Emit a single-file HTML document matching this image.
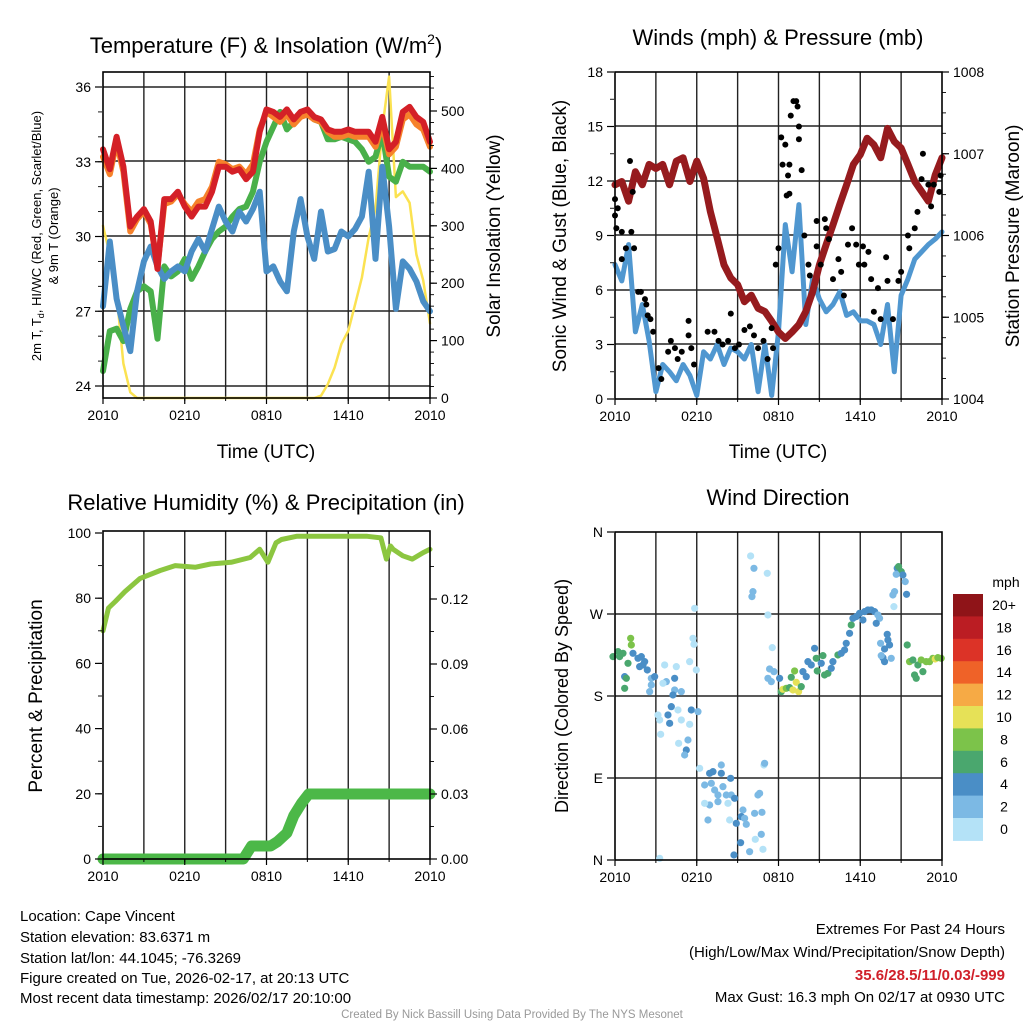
<!DOCTYPE html>
<html><head><meta charset="utf-8"><style>
html,body{margin:0;padding:0;background:#fff;}
svg{display:block;font-family:"Liberation Sans",Arial,sans-serif;}
</style></head><body>
<svg id="s" width="1024" height="1024" viewBox="0 0 1024 1024" xmlns="http://www.w3.org/2000/svg">
<g id="p1"></g>
<g id="p2"></g>
<g id="p3"></g>
<g id="p4"></g>
<g font-size="15" fill="#000">
<text x="20" y="921">Location: Cape Vincent</text>
<text x="20" y="942">Station elevation: 83.6371 m</text>
<text x="20" y="963">Station lat/lon: 44.1045; -76.3269</text>
<text x="20" y="983">Figure created on Tue, 2026-02-17, at 20:13 UTC</text>
<text x="20" y="1003">Most recent data timestamp: 2026/02/17 20:10:00</text>
</g>
<g font-size="15" text-anchor="end">
<text x="1005" y="934">Extremes For Past 24 Hours</text>
<text x="1005" y="957">(High/Low/Max Wind/Precipitation/Snow Depth)</text>
<text x="1005" y="980" fill="#d0202a" font-weight="bold">35.6/28.5/11/0.03/-999</text>
<text x="1005" y="1002">Max Gust: 16.3 mph On 02/17 at 0930 UTC</text>
</g>
<text x="512" y="1018" font-size="11.5" fill="#999" text-anchor="middle">Created By Nick Bassill Using Data Provided By The NYS Mesonet</text>
</svg>
<script>
// ---------- data (half-hour steps, 0..24 h from 2010 UTC) ----------
const timeTicks = ["2010","0210","0810","1410","2010"];
const tempRed = [33.5,32.7,34.0,32.8,30.4,30.8,31.1,30.6,28.7,31.5,31.5,31.8,31.2,30.8,31.2,31.2,31.8,32.8,32.8,32.6,32.7,32.3,32.6,34.2,35.1,35.0,34.8,35.1,34.7,35.0,35.1,34.8,34.7,34.3,34.2,34.2,34.3,34.2,34.2,34.2,33.8,34.8,33.5,33.8,35.0,35.2,34.8,34.6,33.8];
const tempOrange = [33.2,32.5,33.8,32.6,30.2,30.7,31.0,30.5,28.8,31.3,31.4,31.7,31.3,31.0,31.4,31.5,32.0,33.0,32.9,32.7,32.8,32.5,32.9,34.3,35.0,34.8,34.6,34.9,34.5,34.8,34.9,34.7,34.6,34.2,34.0,34.0,34.1,34.0,34.0,34.0,33.6,34.5,33.3,33.6,34.7,34.9,34.5,34.3,33.6];
const tempGreen = [24.6,26.2,26.3,25.8,27.1,27.8,28.0,27.8,25.9,28.8,28.4,28.6,29.1,28.3,28.8,29.4,29.9,30.2,30.4,30.8,31.1,31.2,31.8,33.0,33.8,34.4,35.0,34.3,34.6,35.0,35.0,34.7,34.6,33.9,33.9,34.0,33.9,33.8,33.5,33.0,33.2,34.2,32.4,32.2,33.0,32.8,32.8,32.8,32.6];
const tempBlue = [27.2,29.8,27.5,26.4,25.4,27.8,29.0,29.6,28.8,28.3,28.6,28.8,28.6,29.4,29.9,29.4,30.3,31.2,30.6,30.2,31.0,30.6,31.1,31.8,28.6,28.8,28.2,27.8,30.2,31.5,30.0,29.1,31.0,29.4,29.5,30.2,30.0,30.3,30.8,32.6,29.1,32.8,30.4,27.1,29.0,28.7,28.2,27.4,27.0];
const solar = [300,250,180,60,10,0,0,0,0,0,0,0,0,0,0,0,0,0,0,0,0,0,0,0,0,0,0,0,0,0,0,0,4,24,53,94,117,163,210,280,330,470,560,350,360,340,250,205,130];
const windSpeed = [7.4,6.5,8.5,3.7,5.2,3.2,0.4,1.9,1.5,1.0,1.9,1.3,0.2,2.6,2.2,3.0,1.9,2.8,2.6,2.2,3.0,0.4,3.0,0.2,3.7,9.6,7.0,10.7,4.1,6.6,5.5,4.8,5.2,5.9,4.6,4.8,4.3,4.3,4.1,3.0,5.2,1.5,5.7,6.6,7.7,8.1,8.5,8.8,9.2];
const pressure = [1006.62,1006.66,1006.42,1006.78,1006.62,1006.87,1006.82,1006.87,1006.62,1006.91,1006.95,1006.66,1006.91,1006.70,1006.29,1005.97,1005.64,1005.48,1005.40,1005.19,1005.27,1005.11,1005.07,1004.95,1004.82,1004.74,1004.82,1004.91,1005.07,1005.31,1005.64,1005.89,1006.13,1006.38,1006.62,1006.87,1006.99,1007.19,1007.11,1006.95,1007.31,1007.15,1007.07,1006.87,1006.66,1006.54,1006.42,1006.74,1006.95];
const gustTimes = [0,0,0.2,0.1,0.5,0.5,0.8,1.1,1.2,1.3,1.4,1.7,1.9,2.2,2.3,2.4,2.6,2.8,3.2,3.4,3.9,4.1,4.4,4.6,4.9,5.4,5.4,5.6,5.8,6.8,7.3,7.6,7.9,8.3,8.5,8.8,9.1,9.5,9.9,10.2,10.5,10.9,11.2,11.5,11.6,11.8,12.0,12.2,12.5,12.3,12.7,12.8,12.9,13.1,13.3,13.4,13.5,13.5,13.7,12.8,12.6,13.9,14.2,14.3,14.8,14.8,15.1,15.4,15.5,15.7,16.0,16.4,16.6,16.8,17.1,17.4,17.7,17.9,18.2,18.3,18.6,18.8,19.0,19.3,19.5,19.9,20.0,20.4,20.8,21.0,21.5,21.6,22.0,22.2,22.5,22.6,23.0,23.2,23.4,23.8,23.9];
const gustValues = [10.1,11.0,10.5,9.4,9.2,7.7,8.3,13.1,9.2,11.4,8.3,5.9,5.9,5.5,5.2,4.6,4.4,3.7,1.7,1.1,2.6,3.2,2.8,2.2,2.6,4.3,3.5,2.8,1.9,3.7,3.7,3.2,3.0,3.2,4.7,2.8,3.0,3.8,4.0,3.5,2.8,3.2,2.2,3.9,2.8,7.4,8.3,14.4,14.0,12.9,12.3,12.9,15.6,16.4,16.4,16.1,15.0,14.3,12.6,11.3,11.2,9.0,7.4,6.8,9.8,8.4,7.4,9.9,9.4,8.8,6.6,7.7,7.0,5.7,8.5,9.4,8.5,7.4,8.4,7.4,8.1,6.6,4.8,6.1,4.4,7.8,6.5,4.4,6.5,7.0,9.0,8.3,9.4,10.3,12.1,13.5,11.8,10.6,11.8,11.4,12.3];
const rhTimes = [0,0.4,0.9,1.6,2.7,4.2,5.3,6.8,7.9,9.4,10.8,11.5,12.1,12.7,13.1,14.2,15.3,16.5,19.4,20.4,20.8,21.1,21.3,22.0,22.7,23.5,24];
const rhValues = [70,77,79,82,86,88.5,90,89.5,90.5,91,92.5,95,91,97,98,99,99,99,99,98.5,92,96,95,93,92,94,95];
const precipTimes = [0,10.3,10.6,10.9,12.3,12.8,13.5,14.0,14.6,15.1,24];
const precipValues = [0,0,0.003,0.006,0.006,0.008,0.012,0.02,0.026,0.03,0.03];
const dirTimes = [];
const dirValues = [];
const dirSpeeds = [];
const dirRaw = [[15,395,6],[30,380,6],[35,395,6],[45,385,6],[60,415,6],[68,340,8],[70,360,8],[75,385,4],[90,400,4],[100,395,4],[110,410,4],[95,425,4],[105,420,4],[118,435,4],[50,455,4],[55,460,6],[50,490,6],[130,460,2],[140,455,4],[130,480,2],[125,500,2],[170,420,0],[175,470,2],[200,460,4],[205,425,0],[165,475,0],[200,495,2],[220,500,2],[195,510,4],[190,545,4],[180,570,4],[210,555,0],[150,570,0],[155,585,0],[185,595,4],[220,585,0],[245,598,0],[158,628,0],[250,555,4],[270,560,2],[245,410,0],[265,435,0],[255,340,0],[258,358,0],[260,250,0],[212,655,0],[240,645,2],[235,675,4],[230,690,2],[275,730,0],[305,745,4],[315,740,4],[340,720,2],[340,745,4],[368,760,4],[290,780,2],[310,775,2],[320,795,2],[345,785,2],[330,810,2],[355,810,2],[370,810,2],[380,820,4],[305,840,2],[330,830,2],[360,835,0],[290,835,0],[405,855,2],[400,875,4],[410,880,2],[385,895,4],[415,898,2],[440,865,2],[462,862,2],[450,810,2],[455,805,2],[300,885,2],[365,885,0],[398,953,4],[378,990,4],[425,980,2],[465,973,0],[442,943,0],[460,928,2],[155,1000,0],[468,720,0],[470,715,2],[428,93,0],[438,130,2],[478,145,0],[435,200,2],[432,215,2],[480,270,0],[493,368,0],[485,432,2],[480,460,2],[498,440,2],[490,470,2],[515,460,4],[520,500,6],[525,493,10],[535,490,8],[545,488,6],[550,457,6],[560,438,8],[555,495,10],[565,472,10],[572,500,10],[580,485,6],[585,440,4],[595,455,4],[600,410,4],[620,370,4],[610,420,4],[625,400,6],[628,438,6],[645,392,6],[640,415,4],[650,450,6],[660,445,6],[670,430,4],[675,410,4],[690,390,6],[700,385,4],[710,375,4],[715,355,4],[725,325,4],[730,300,6],[735,280,4],[745,275,4],[755,265,4],[765,285,4],[770,260,4],[780,255,4],[790,255,4],[800,260,4],[810,270,2],[815,280,2],[805,295,4],[838,328,4],[840,345,4],[845,360,4],[830,372,4],[818,355,2],[825,398,4],[830,410,4],[850,400,2],[820,392,2],[858,245,0],[855,210,2],[860,200,2],[868,130,4],[872,125,6],[880,140,6],[885,150,4],[865,148,2],[892,170,2],[896,208,4],[898,360,6],[905,410,8],[915,405,6],[920,450,6],[925,460,6],[930,420,6],[940,405,8],[945,440,6],[955,410,8],[965,410,8],[975,400,8],[982,402,10],[990,398,8],[1000,400,8]];
const speedLabels = ["0","2","4","6","8","10","12","14","16","18","20+"];
const speedColors = ["#b4e2f7","#7cb9e4","#4a8ec6","#4aa76e","#7cc34a","#e6e157","#f6aa45","#ef6228","#dc3327","#bb1d23","#8f1418"];
// convert digitised raw (zoom coords) into time/degree data
dirRaw.forEach(r=>{dirTimes.push(((608+r[0]/3)-615)/13.63);dirValues.push((860-(525+r[1]/3))/0.911);dirSpeeds.push(r[2]);});

// ---------- helpers ----------
const NS="http://www.w3.org/2000/svg";
function mk(parent,tag,attrs,text){const e=document.createElementNS(NS,tag);for(const k in attrs)e.setAttribute(k,attrs[k]);if(text!==undefined)e.textContent=text;parent.appendChild(e);return e;}
const halfHours = tempRed.map((v,i)=>i*0.5);
function lin(d0,d1,r0,r1){return v=>r0+(v-d0)/(d1-d0)*(r1-r0);}
function poly(g,xs,ys,sx,sy,color,w,name){
  const pts=xs.map((t,i)=>sx(t).toFixed(1)+","+sy(ys[i]).toFixed(1)).join(" ");
  const p=mk(g,"polyline",{points:pts,fill:"none",stroke:color,"stroke-width":w,"stroke-linejoin":"round","stroke-linecap":"round"});
  
  
  return p;
}
function frame(g,L,R,T,B,sx,hLines,vGrid){
  for(let h=3;h<24;h+=3){const x=sx(h);const l=mk(g,"line",{x1:x,x2:x,y1:T,y2:B,stroke:"#222","stroke-width":1.4});
    
    }
  hLines.forEach(y=>{const l=mk(g,"line",{x1:L,x2:R,y1:y,y2:y,stroke:"#222","stroke-width":1.4});
    
    });
}
function border(g,L,R,T,B,sx){
  const r=mk(g,"rect",{x:L,y:T,width:R-L,height:B-T,fill:"none",stroke:"#000","stroke-width":1.6});
  
  
  timeTicks.forEach((lab,i)=>{const x=sx(i*6);
    mk(g,"line",{x1:x,x2:x,y1:B,y2:B+6,stroke:"#000","stroke-width":1.2});
    const t=mk(g,"text",{x:x,y:B+22,"font-size":14,"text-anchor":"middle"},lab);
    
    });
  for(let h=0;h<=24;h+=3){const x=sx(h);mk(g,"line",{x1:x,x2:x,y1:B,y2:B+3,stroke:"#000","stroke-width":1});}
}
function yTicks(g,x,sy,vals,labels,side,name){
  vals.forEach((v,i)=>{const y=sy(v);
    mk(g,"line",{x1:x,x2:x+(side<0?-7:7),y1:y,y2:y,stroke:"#000","stroke-width":1.2});
    const t=mk(g,"text",{x:x+(side<0?-11:11),y:y+5,"font-size":14,"text-anchor":side<0?"end":"start"},labels[i]);
    
    });
}
function minor(g,x,sy,v0,v1,step,side){for(let v=v0;v<=v1+1e-9;v+=step){const y=sy(v);mk(g,"line",{x1:x,x2:x+(side<0?-4:4),y1:y,y2:y,stroke:"#000","stroke-width":0.9});}}
function title(g,x,y,txt,name,size){const t=mk(g,"text",{x:x,y:y,"font-size":size||22,"text-anchor":"middle"});t.innerHTML=txt;return t;}
function vlabel(g,x,y,txt,name,size){const t=mk(g,"text",{x:0,y:0,"font-size":size||19,"text-anchor":"middle",transform:`translate(${x},${y}) rotate(-90)`});t.innerHTML=txt;return t;}

// ---------- Panel 1 ----------
(function(){
const g=document.getElementById("p1");
const L=103,R=430,T=72,B=398;
const sx=lin(0,24,L,R), sy=lin(24,36,386,87), ss=lin(0,500,398,111);
frame(g,L,R,T,B,sx,[87,161,236,311,386]);
poly(g,halfHours,solar,sx,ss,"#fbe251",2.5,"solar-insolation-line");
poly(g,halfHours,tempGreen,sx,sy,"#49b04a",6,"heat-index-line");
poly(g,halfHours,tempBlue,sx,sy,"#4a8ec6",6,"dewpoint-line");
poly(g,halfHours,tempOrange,sx,sy,"#f6822b",6,"temp-9m-line");
poly(g,halfHours,tempRed,sx,sy,"#d42027",6,"temp-2m-line");
border(g,L,R,T,B,sx);
yTicks(g,L-1,sy,[24,27,30,33,36],["24","27","30","33","36"],-1,"left-y-tick");
minor(g,L-1,sy,24,36,1,-1);
yTicks(g,R,ss,[0,100,200,300,400,500],["0","100","200","300","400","500"],1,"right-y-tick");
minor(g,R,ss,0,560,20,1);
title(g,266,53,'Temperature (F) &amp; Insolation (W/m<tspan font-size="14" dy="-9">2</tspan><tspan dy="9">)</tspan>',"chart-title");
title(g,266,458,"Time (UTC)","x-axis-title",19);
vlabel(g,41,236,"2m T, T<tspan font-size=\"9\" dy=\"3\">d</tspan><tspan dy=\"-3\">, HI/WC (Red, Green, Scarlet/Blue)</tspan>","left-y-axis-title",13);
vlabel(g,58,236,"&amp; 9m T (Orange)","left-y-axis-title-2",13);
vlabel(g,500,236,"Solar Insolation (Yellow)","right-y-axis-title");
})();

// ---------- Panel 2 ----------
(function(){
const g=document.getElementById("p2");
const L=615,R=942,T=72,B=399;
const sx=lin(0,24,L,R), sy=lin(0,18,B,T), sp=lin(1004,1008,B,T);
frame(g,L,R,T,B,sx,[126,181,235,290,344]);
poly(g,halfHours,windSpeed,sx,sy,"#5097d0",5,"sonic-wind-line");
poly(g,halfHours,pressure,sx,sp,"#961b1e",7,"pressure-line");
gustTimes.forEach((t,i)=>{const c=mk(g,"circle",{cx:sx(t),cy:sy(gustValues[i]),r:3,fill:"#000"});
  
  });
border(g,L,R,T,B,sx);
yTicks(g,L-1,sy,[0,3,6,9,12,15,18],["0","3","6","9","12","15","18"],-1,"left-y-tick");
minor(g,L-1,sy,0,18,1.5,-1);
yTicks(g,R,sp,[1004,1005,1006,1007,1008],["1004","1005","1006","1007","1008"],1,"right-y-tick");
minor(g,R,sp,1004,1008,0.25,1);
title(g,778,45,"Winds (mph) &amp; Pressure (mb)","chart-title");
title(g,778,458,"Time (UTC)","x-axis-title",19);
vlabel(g,566,236,"Sonic Wind &amp; Gust (Blue, Black)","left-y-axis-title");
vlabel(g,1019,236,"Station Pressure (Maroon)","right-y-axis-title");
})();

// ---------- Panel 3 ----------
(function(){
const g=document.getElementById("p3");
const L=103,R=430,T=531,B=859;
const sx=lin(0,24,L,R), sy=lin(0,100,B,533), sp=lin(0,0.03,B,794);
frame(g,L,R,T,B,sx,[]);
poly(g,rhTimes,rhValues,sx,sy,"#8cc640",5,"relative-humidity-line");
poly(g,precipTimes,precipValues,sx,sp,"#4cb848",11,"precipitation-line");
border(g,L,R,T,B,sx);
yTicks(g,L-1,sy,[0,20,40,60,80,100],["0","20","40","60","80","100"],-1,"left-y-tick");
minor(g,L-1,sy,0,100,10,-1);
yTicks(g,R,sp,[0,0.03,0.06,0.09,0.12],["0.00","0.03","0.06","0.09","0.12"],1,"right-y-tick");
minor(g,R,sp,0,0.144,0.015,1);
title(g,266,510,"Relative Humidity (%) &amp; Precipitation (in)","chart-title");
vlabel(g,42,696,"Percent &amp; Precipitation","left-y-axis-title");
})();

// ---------- Panel 4 ----------
(function(){
const g=document.getElementById("p4");
const L=615,R=942,T=532,B=860;
const sx=lin(0,24,L,R), sy=lin(0,360,B,T);
frame(g,L,R,T,B,sx,[614,696,778]);
dirTimes.forEach((t,i)=>{const c=mk(g,"circle",{cx:sx(t),cy:sy(dirValues[i]),r:3.6,fill:speedColors[dirSpeeds[i]/2]});
  
  });
border(g,L,R,T,B,sx);
yTicks(g,L-1,sy,[0,90,180,270,360],["N","E","S","W","N"],-1,"left-y-tick");
title(g,778,505,"Wind Direction","chart-title");
vlabel(g,568,696,"Direction (Colored By Speed)","left-y-axis-title",18);
const lg=mk(g,"g",{});


const cbT=594, cbH=22.4;
for(let i=0;i<speedColors.length;i++){
  const k=speedColors.length-1-i;
  const r=mk(lg,"rect",{x:953,y:cbT+i*cbH,width:30,height:cbH+0.5,fill:speedColors[k]});
  
  
  const t=mk(lg,"text",{x:1004,y:cbT+i*cbH+16,"font-size":14,"text-anchor":"middle"},speedLabels[k]);
  
  
}
const u=mk(lg,"text",{x:1006,y:587,"font-size":14,"text-anchor":"middle"},"mph");


})();
</script>
</body></html>
